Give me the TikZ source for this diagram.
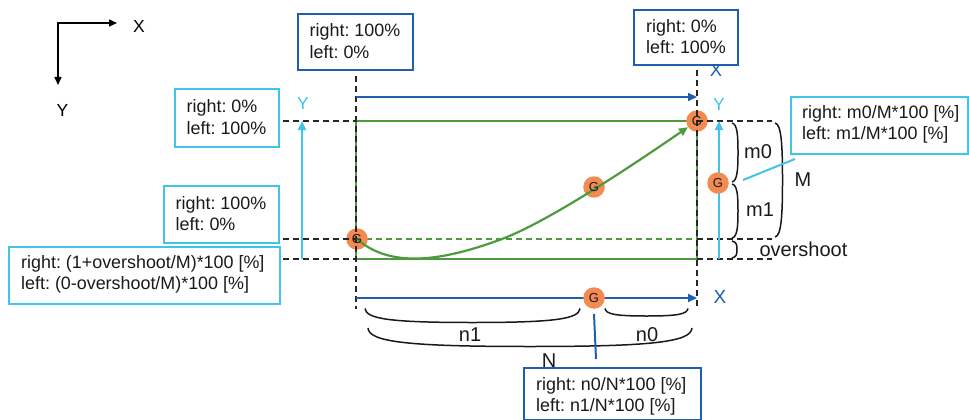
\documentclass[tikz,border=0pt]{standalone}
\usepackage{fontspec}
\setmainfont{Liberation Sans}
\frenchspacing
\usetikzlibrary{arrows.meta}
\definecolor{dblue}{HTML}{1F5FAE}
\definecolor{cyanc}{HTML}{40C4E8}
\definecolor{grn}{HTML}{4E9A3E}
\definecolor{org}{HTML}{F28A52}
\definecolor{txt}{HTML}{1A1A1A}
\tikzset{
  dsh/.style={black!85, line width=1.3pt, dash pattern=on 6pt off 4pt},
  gdot/.style={circle, fill=org, minimum size=21.5pt, inner sep=0pt, text=txt, font=\fontsize{13}{13}\selectfont},
  gtext/.style={inner sep=0pt, text=txt, font=\fontsize{13}{13}\selectfont},
  bluebox/.style={draw=dblue, fill=white, line width=2pt, rectangle, inner sep=0pt, anchor=north west},
  cyanbox/.style={draw=cyanc, fill=white, line width=2.2pt, rectangle, inner sep=0pt, anchor=north west},
  boxtext/.style={align=left, inner sep=0pt, anchor=west, text=txt, font=\fontsize{17.9}{21.5}\selectfont},
  lbl/.style={inner sep=0pt, text=txt, font=\fontsize{20}{20}\selectfont},
  brc/.style={line width=1.5pt, black!90},
  tip/.style={-{Triangle[length=9pt,width=8pt]}},
}
% vertical ")" bracket: #1=x, #2=top y, #3=bottom y, #4=amplitude
\newcommand{\rbrk}[4]{%
  \draw[brc] (#1,#2) .. controls ({#1+0.9*#4},{#2+1}) and ({#1+#4},{#2+0.22*(#3-#2)}) .. ({#1+#4},{(#2+#3)/2})
     .. controls ({#1+#4},{#3-0.22*(#3-#2)}) and ({#1+0.9*#4},{#3-1}) .. (#1,#3);}
% horizontal bottom arc bracket: #1=left x, #2=right x, #3=y, #4=amplitude
\newcommand{\bbrk}[4]{%
  \draw[brc] (#1,#3) .. controls ({#1+1},{#3+0.75*#4}) and ({#1+0.12*(#2-#1)},{#3+#4}) .. ({(#1+#2)/2},{#3+#4})
     .. controls ({#2-0.12*(#2-#1)},{#3+#4}) and ({#2-1},{#3+0.75*#4}) .. (#2,#3);}
\begin{document}
\begin{tikzpicture}[x=1pt,y=-1pt]
\useasboundingbox (0,0) rectangle (969,420);

% axis legend
\coordinate (ax0) at (58,23);
\coordinate (axX) at (117,23);
\coordinate (axY) at (58,85);
\draw[line width=1.5pt, {Triangle[length=8pt,width=7pt]}-{Triangle[length=8pt,width=7pt]}] (axX) -- (ax0) -- (axY);
\node[inner sep=0pt, font=\fontsize{17.5}{17.5}\selectfont] (lX) at (139,26) {X};
\node[inner sep=0pt, font=\fontsize{17.5}{17.5}\selectfont] (lY) at (62.5,110) {Y};

% green rectangle
\draw[grn, line width=2pt] (356,121) rectangle (697,259);
\draw[grn, line width=1.3pt, dash pattern=on 6pt off 4pt] (356,239) -- (697,239);

% G circles (under)
\node[gdot] (gA) at (357,239) {};
\node[gdot] (gB) at (697,121) {};
\node[gdot] (gC) at (594,187) {};

% dashed guides
\draw[dsh] (356,76) -- (356,309);
\draw[dsh] (697,70) -- (697,309);
\draw[dsh] (283,121) -- (356,121);
\draw[dsh] (697,121) -- (772,121);
\draw[dsh] (283,239) -- (356,239);
\draw[dsh] (697,239) -- (772,239);
\draw[dsh] (283,259) -- (356,259);
\draw[dsh] (697,259) -- (772,259);

% green trajectory
\coordinate (c1) at (502,239);
\draw[grn, line width=2.2pt, tip] (gA.center) .. controls (390,268) and (440,262) .. (c1) .. controls (552,220) and (640,160) .. (gB);

% G letters on top
\node[gtext] (gAt) at (gA) {G};
\node[gtext] (gBt) at (gB) {G};
\node[gtext] (gCt) at (gC) {G};

% blue arrows
\coordinate (tl) at (356,97);
\coordinate (tr) at (697,97);
\coordinate (bl) at (356,298);
\coordinate (br) at (697,298);
\draw[dblue, line width=2.2pt, tip] (tl) -- (tr);
\draw[dblue, line width=2.2pt, tip] (bl) -- (br);

% cyan arrows
\coordinate (ylb) at (302,259);
\coordinate (ylt) at (302,121);
\coordinate (yrb) at (719,259);
\coordinate (yrt) at (719,121);
\draw[cyanc, line width=2.2pt, tip] (ylb) -- (ylt);
\draw[cyanc, line width=2.2pt, tip] (yrb) -- (yrt);

% G circles (over)
\node[gdot] (gD) at (718,183) {G};
\node[gdot] (gE) at (594,298) {G};

% axis labels
\node[inner sep=0pt, text=cyanc, font=\fontsize{17.5}{17.5}\selectfont] (yL) at (303,103.5) {Y};
\node[inner sep=0pt, text=cyanc, font=\fontsize{17.5}{17.5}\selectfont] (yR) at (719,104) {Y};
\node[inner sep=0pt, text=dblue, font=\fontsize{18.5}{18.5}\selectfont] (xT) at (716,70.5) {X};
\node[inner sep=0pt, text=dblue, font=\fontsize{19}{19}\selectfont] (xB) at (720,297) {X};

% right brackets
\rbrk{732}{123}{182}{6}
\rbrk{732}{184}{238}{6}
\rbrk{732}{241}{258}{5}
\rbrk{775}{123}{237}{7.5}
\node[lbl] (m0) at (758,152) {m0};
\node[lbl] (m1) at (760,210) {m1};
\node[lbl] (M) at (803,180) {M};
\node[lbl] (ov) at (803.5,249) {overshoot};

% bottom brackets
\bbrk{365}{580}{308.5}{14}
\bbrk{605}{688}{308.5}{7.5}
\bbrk{368}{692}{328}{18.5}
\node[lbl] (n1) at (470,335) {n1};
\node[lbl] (n0) at (647,335) {n0};
\node[lbl] (N) at (549,361) {N};

% boxes
\node[bluebox, minimum width=115pt, minimum height=56pt] (bA) at (297,13) {};
\node[boxtext] (tA) at (309.5,41) {right: 100\%\\left: 0\%};
\node[bluebox, minimum width=104pt, minimum height=55pt] (bB) at (633,9) {};
\node[boxtext] (tB) at (646,36.5) {right: 0\%\\left: 100\%};
\node[cyanbox, minimum width=104pt, minimum height=58pt] (bC) at (174,88) {};
\node[boxtext] (tC) at (186.5,117) {right: 0\%\\left: 100\%};
\node[cyanbox, minimum width=115pt, minimum height=57pt] (bD) at (163,185) {};
\node[boxtext] (tD) at (175.5,213.5) {right: 100\%\\left: 0\%};
\node[cyanbox, minimum width=271pt, minimum height=57pt] (bE) at (8,246) {};
\node[boxtext] (tE) at (21,274.5) {right: (1+overshoot/M)*100 [\%]\\left: (0-overshoot/M)*100 [\%]};
\node[cyanbox, minimum width=177pt, minimum height=57pt] (bF) at (790,96) {};
\node[boxtext] (tF) at (802,124.5) {right: m0/M*100 [\%]\\left: m1/M*100 [\%]};
\node[bluebox, minimum width=177pt, minimum height=52pt] (bG) at (523,367) {};
\node[boxtext] (tG) at (536,396.5) {right: n0/N*100 [\%]\\left: n1/N*100 [\%]};

% callout connectors
\coordinate (cM) at (743,180);
\coordinate (cF) at (795,159);
\draw[cyanc, line width=2pt] (cM) -- (cF);
\coordinate (cN) at (594,314);
\coordinate (cG) at (596,359);
\draw[dblue, line width=2pt] (cN) -- (cG);
\end{tikzpicture}
\end{document}
